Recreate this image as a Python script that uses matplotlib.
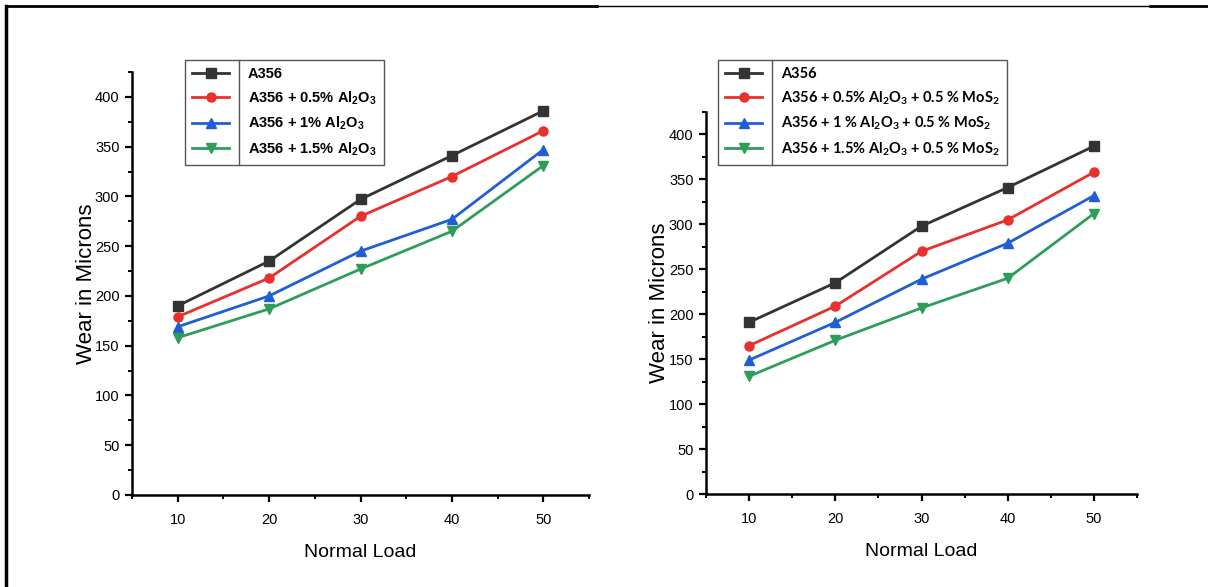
import matplotlib
matplotlib.use("Agg")
import matplotlib.pyplot as plt
from matplotlib.lines import Line2D
from matplotlib.ticker import MultipleLocator

plt.rcParams['font.family'] = ['Liberation Sans', 'DejaVu Sans']
plt.rcParams['mathtext.default'] = 'regular'

loads = [10, 20, 30, 40, 50]

# Left panel (Al2O3)
left_a356 = [190, 235, 297, 341, 386]
left_05 = [179, 218, 280, 320, 366]
left_1 = [169, 200, 245, 277, 347]
left_15 = [158, 187, 227, 265, 331]
left_labels = ["A356",
               "A356 + 0.5% Al$_2$O$_3$",
               "A356 + 1% Al$_2$O$_3$",
               "A356 + 1.5% Al$_2$O$_3$"]

# Right panel (Al2O3 + MoS2)
right_a356 = [191, 235, 298, 341, 387]
right_05 = [165, 209, 270, 305, 358]
right_1 = [149, 191, 239, 279, 332]
right_15 = [131, 171, 207, 240, 312]
right_labels = ["A356",
                "A356 + 0.5% Al$_2$O$_3$ + 0.5 % MoS$_2$",
                "A356 + 1 % Al$_2$O$_3$ + 0.5 % MoS$_2$",
                "A356 + 1.5% Al$_2$O$_3$ + 0.5 % MoS$_2$"]

colors = ['#333333', '#e8302c', '#1f5fd3', '#2f9d5a']
markers = ['s', 'o', '^', 'v']

W, H = 1208, 587
fig = plt.figure(figsize=(W / 100, H / 100), dpi=100)


def fx(px):
    return px / W


def fy(py):
    return 1 - py / H


def make_axes(x0, x1, y0, y1):
    return fig.add_axes([fx(x0), fy(y1), fx(x1) - fx(x0), fy(y0) - fy(y1)])


def style(ax, ylx):
    for s in ['top', 'right']:
        ax.spines[s].set_visible(False)
    for s in ['left', 'bottom']:
        ax.spines[s].set_linewidth(1.8)
    ax.set_xlim(5, 55)
    ax.set_ylim(0, 425)
    ax.set_xticks(loads)
    ax.xaxis.set_minor_locator(MultipleLocator(5))
    ax.yaxis.set_major_locator(MultipleLocator(50))
    ax.yaxis.set_minor_locator(MultipleLocator(25))
    ax.tick_params(which='major', direction='out', length=5, width=1.6,
                   labelsize=10.5, colors='black')
    ax.tick_params(axis='x', which='major', pad=8)
    ax.tick_params(axis='y', which='major', pad=4)
    ax.tick_params(which='minor', direction='out', length=3, width=1.4)
    ax.set_xlabel("Normal Load", fontsize=14, labelpad=12)
    ax.set_ylabel("Wear in Microns", fontsize=16, va='center')
    ax.yaxis.set_label_coords(ylx, 0.5)
    ax.patch.set_alpha(0)


def add_legend(ax, handles, labels, left_px, top_px, family, fs):
    leg = ax.legend(handles, labels, loc='upper left',
                    bbox_to_anchor=(fx(left_px), fy(top_px)),
                    bbox_transform=fig.transFigure,
                    prop={'family': family, 'weight': 'bold', 'size': fs},
                    frameon=True, fancybox=False, edgecolor='#555555',
                    framealpha=1, handlelength=2.5, handletextpad=1.3,
                    borderpad=0.5, labelspacing=0.55, borderaxespad=0)
    leg.get_frame().set_linewidth(1.0)
    fig.canvas.draw()
    r = fig.canvas.get_renderer()
    tx = min(t.get_window_extent(r).x0 for t in leg.get_texts())
    bb = leg.get_window_extent(r)
    xdiv = tx - 9
    fig.add_artist(Line2D([xdiv / W, xdiv / W], [bb.y0 / H, bb.y1 / H],
                          transform=fig.transFigure, color='#555555', lw=1.0))
    return leg


# Left chart
axL = make_axes(132, 589, 72, 495)
style(axL, -0.1)
hL = []
for ys, c, m in zip([left_a356, left_05, left_1, left_15], colors, markers):
    ln, = axL.plot(loads, ys, color=c, marker=m, markersize=6.5, lw=2.0)
    hL.append(ln)

# Right chart
axR = make_axes(706, 1137, 112, 494)
style(axR, -0.108)
hR = []
for ys, c, m in zip([right_a356, right_05, right_1, right_15], colors, markers):
    ln, = axR.plot(loads, ys, color=c, marker=m, markersize=6.5, lw=2.0)
    hR.append(ln)

add_legend(axL, hL, left_labels, 185, 60, ['Liberation Sans', 'DejaVu Sans'], 10.5)
add_legend(axR, hR, right_labels, 718, 60, ['Lato', 'DejaVu Sans'], 10.5)

# page border
fig.add_artist(Line2D([fx(6), fx(597)], [fy(6), fy(6)], transform=fig.transFigure,
                      color='black', lw=2.0))
fig.add_artist(Line2D([fx(597), fx(1150)], [fy(6), fy(6)], transform=fig.transFigure,
                      color='black', lw=1.0))
fig.add_artist(Line2D([fx(1150), fx(1208)], [fy(6), fy(6)], transform=fig.transFigure,
                      color='black', lw=2.0))
fig.add_artist(Line2D([fx(6), fx(6)], [fy(6), 0], transform=fig.transFigure,
                      color='black', lw=2.5))

fig.savefig("out.png", dpi=100)
